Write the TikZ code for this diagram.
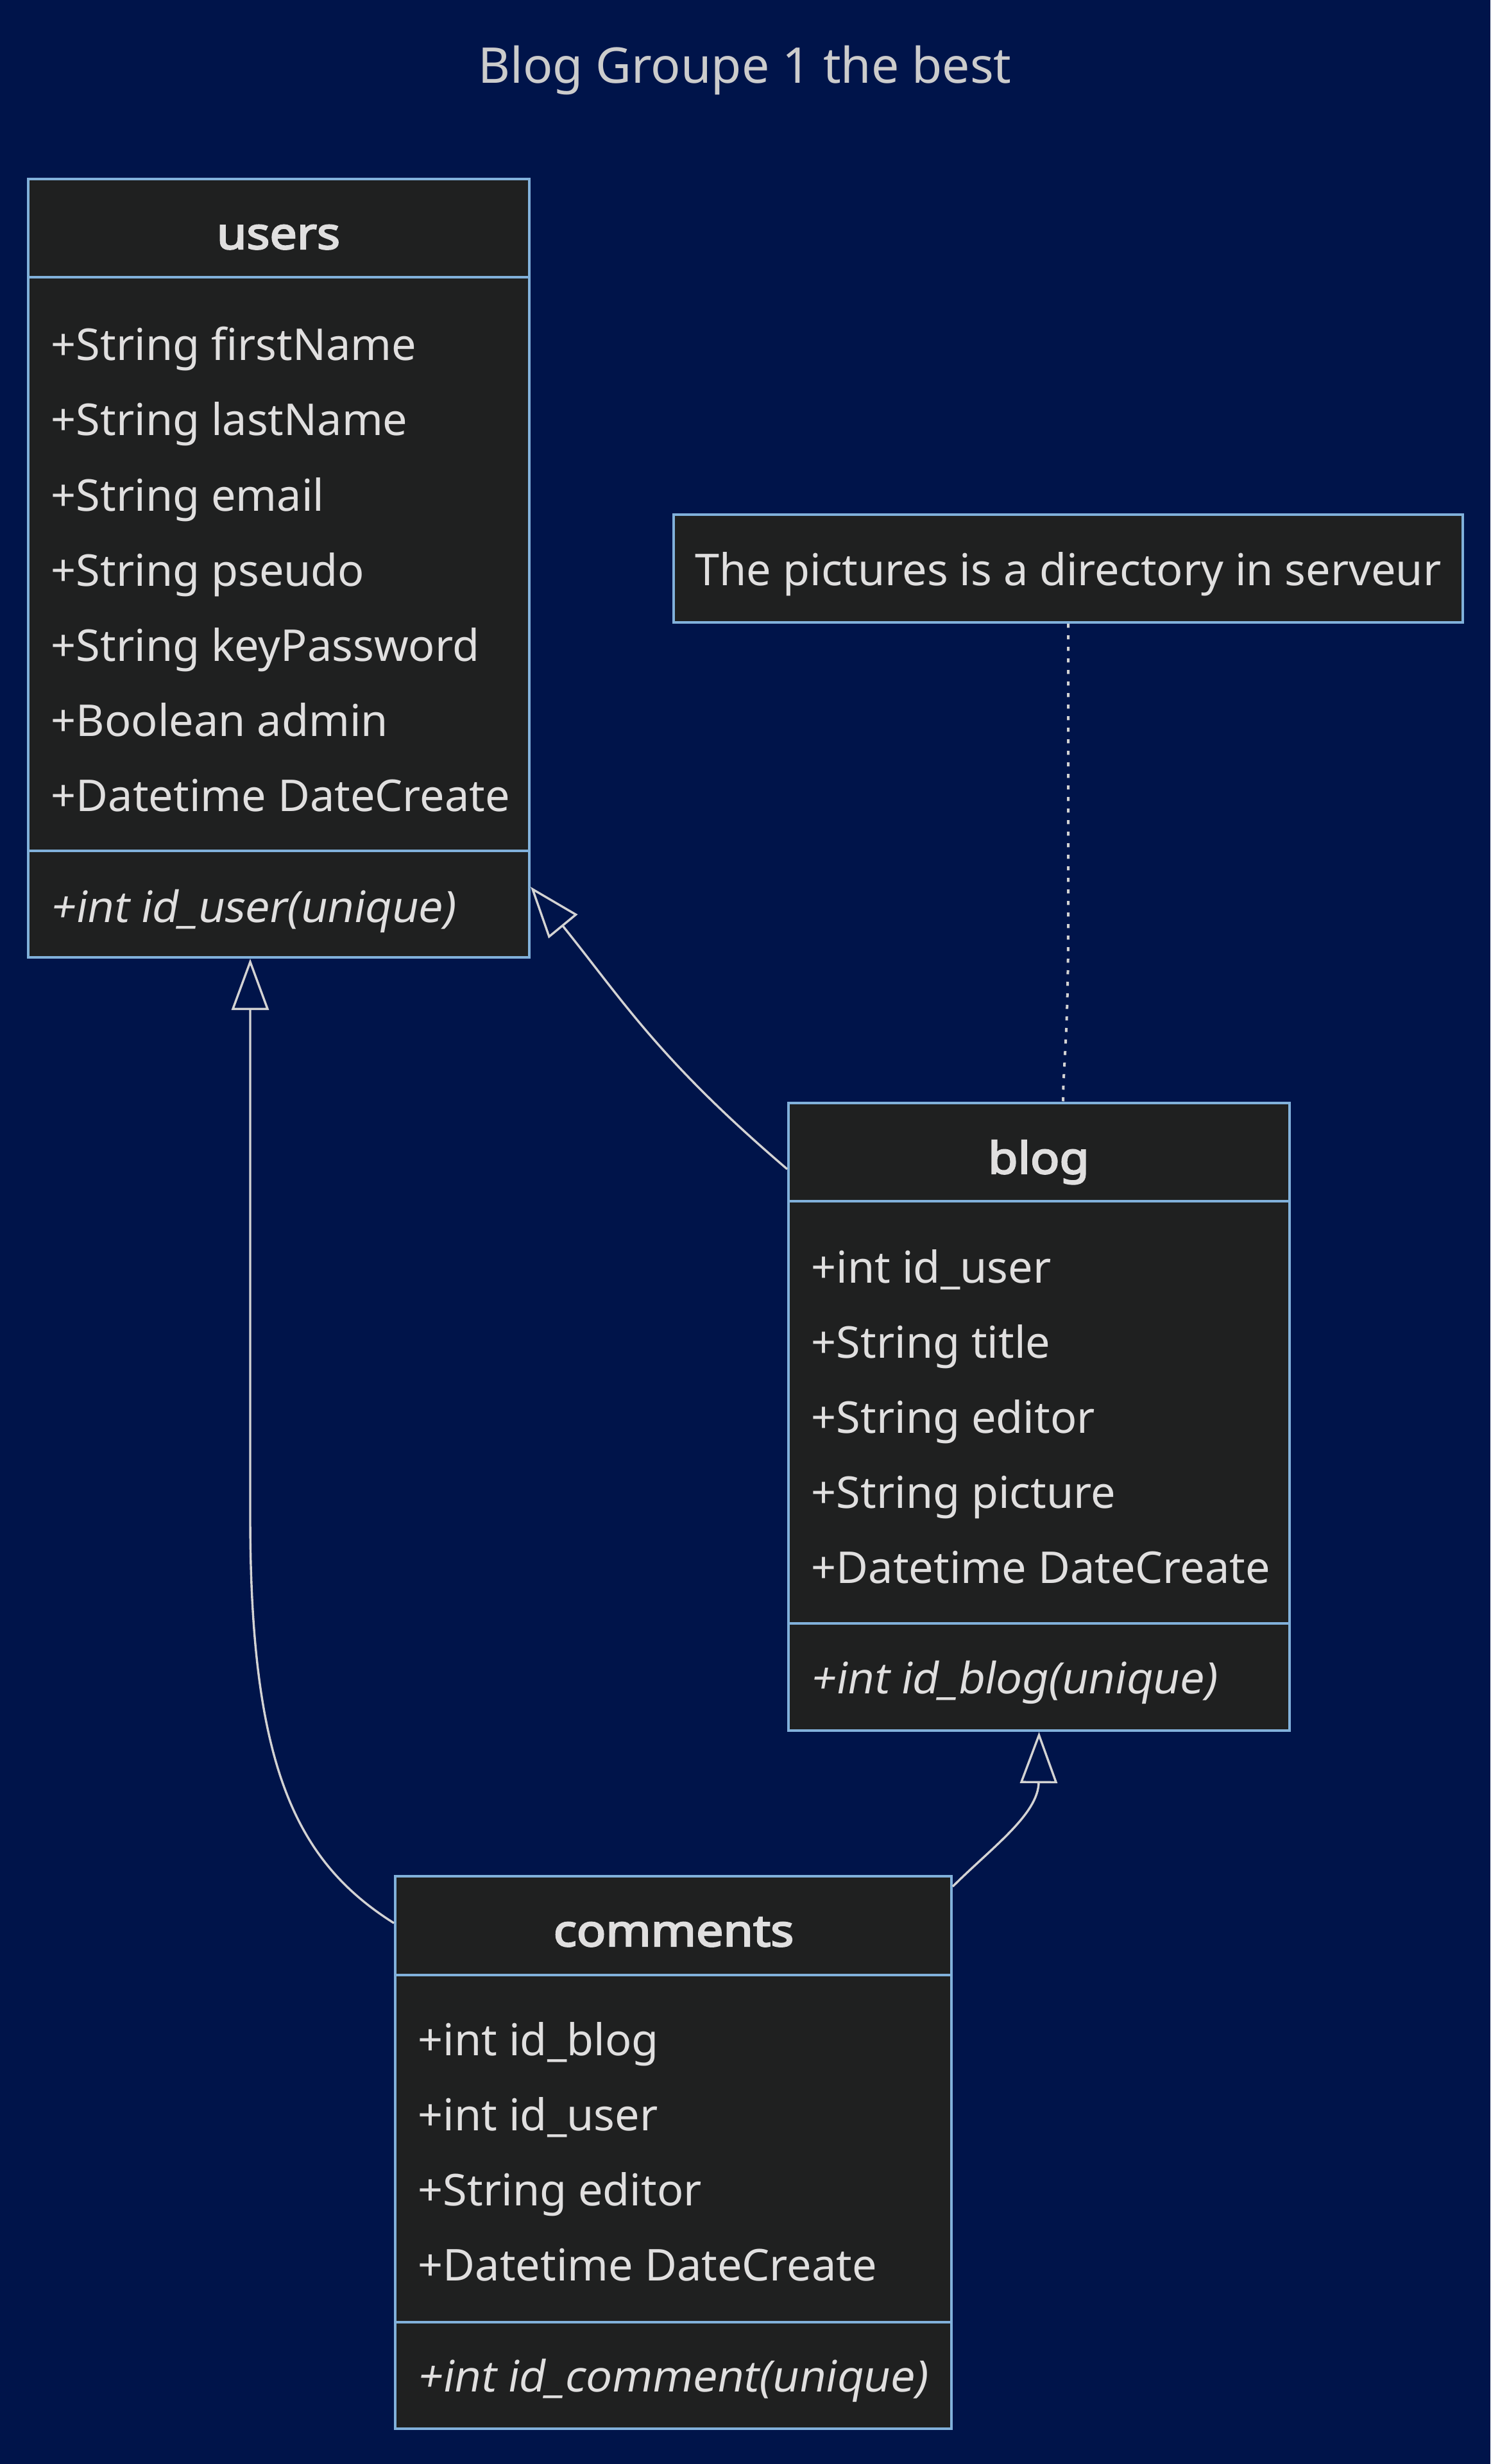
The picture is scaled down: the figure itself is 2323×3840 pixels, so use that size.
\documentclass[tikz,border=0pt]{standalone}
\usepackage{fontspec}
\setmainfont{Noto Sans}
\newfontfamily\grasfont{Noto Sans}[FakeBold=3.5, FakeStretch=1.1]
\newfontfamily\penchefont{Noto Sans}[FakeSlant=0.18]
\usetikzlibrary{arrows.meta, fit}
\definecolor{cfond}{HTML}{00144A}
\definecolor{cboite}{HTML}{1F2020}
\definecolor{cbord}{HTML}{81B1DB}
\definecolor{ctexte}{HTML}{E0DFDF}
\definecolor{ctitre}{HTML}{CCCCCC}
\definecolor{ctrait}{HTML}{D3D3D3}

\begin{document}
\begin{tikzpicture}[x=0.25pt, y=-0.25pt,
    classe/.style={draw=cbord, fill=cboite, line width=1pt, inner sep=0pt},
    trait/.style={draw=cbord, line width=1pt},
    attr/.style={anchor=base west, inner sep=0pt, text=ctexte, font=\fontsize{17.1}{21}\selectfont},
    methode/.style={attr, font=\fontsize{16.85}{21}\selectfont\penchefont},
    entete/.style={anchor=base, inner sep=0pt, text=ctexte, font=\fontsize{17.1}{21}\selectfont\grasfont},
    herit/.style={-{Triangle[open, length=20pt, width=14.5pt]}, ctrait, line width=0.85pt},
    lien/.style={ctrait, line width=1pt, dash pattern=on 1.6pt off 2.9pt}]

  \fill[cfond] (0,0) rectangle (2323,3840);
  \node[anchor=base, inner sep=0pt, text=ctitre, font=\fontsize{19.2}{24}\selectfont] (titre) at (1161,130) {Blog Groupe 1 the best};

  % --- users ---
  \node[classe, fit={(44,279) (825,1492)}] (users) {};
  \draw[trait] (users.west |- 0,432) -- (users.east |- 0,432);
  \draw[trait] (users.west |- 0,1326) -- (users.east |- 0,1326);
  \node[entete] (usersnom) at (434,388) {users};
  \foreach \t [count=\i] in {+String firstName, +String lastName, +String email, +String pseudo, +String keyPassword, +Boolean admin, +Datetime DateCreate}
    \node[attr] (u\i) at (79,{562+117*(\i-1)}) {\t};
  \node[methode] (um) at (77,1437) {+int id\_user(unique)};

  % --- note ---
  \node[classe, fit={(1050,802) (2280,970)}] (note) {};
  \node[anchor=base, inner sep=0pt, text=ctexte, font=\fontsize{17.1}{21}\selectfont] (notetxt) at (1665,912) {The pictures is a directory in serveur};

  % --- blog ---
  \node[classe, fit={(1229,1719) (2010,2697)}] (blog) {};
  \draw[trait] (blog.west |- 0,1872) -- (blog.east |- 0,1872);
  \draw[trait] (blog.west |- 0,2530) -- (blog.east |- 0,2530);
  \node[entete] (blognom) at (1619,1829) {blog};
  \foreach \t [count=\i] in {+int id\_user, +String title, +String editor, +String picture, +Datetime DateCreate}
    \node[attr] (b\i) at (1264,{1999+117*(\i-1)}) {\t};
  \node[methode] (bm) at (1262,2639) {+int id\_blog(unique)};

  % --- comments ---
  \node[classe, fit={(616,2924) (1483,3785)}] (comments) {};
  \draw[trait] (comments.west |- 0,3078) -- (comments.east |- 0,3078);
  \draw[trait] (comments.west |- 0,3619) -- (comments.east |- 0,3619);
  \node[entete] (commentsnom) at (1050,3033) {comments};
  \foreach \t [count=\i] in {+int id\_blog, +int id\_user, +String editor, +Datetime DateCreate}
    \node[attr] (c\i) at (651,{3203+117*(\i-1)}) {\t};
  \node[methode] (cm) at (649,3727) {+int id\_comment(unique)};

  % --- liens ---
  \draw[herit] (blog.west |- 0,1822) .. controls (1028,1652) and (972,1561) .. (878,1444) -- (users.east |- 0,1382);
  \draw[herit] (comments.west |- 0,2997) .. controls (460,2900) and (390,2750) .. (390,2363) -- (390,1572) -- (users.south -| 390,0);
  \draw[herit] (comments.east |- 0,2940) .. controls (1545,2880) and (1619,2827) .. (1619,2777) -- (blog.south);
  \draw[lien] (note.south) -- (1665,1440) .. controls (1665,1620) and (1657,1660) .. (blog.north -| 1657,0);
\end{tikzpicture}
\end{document}
